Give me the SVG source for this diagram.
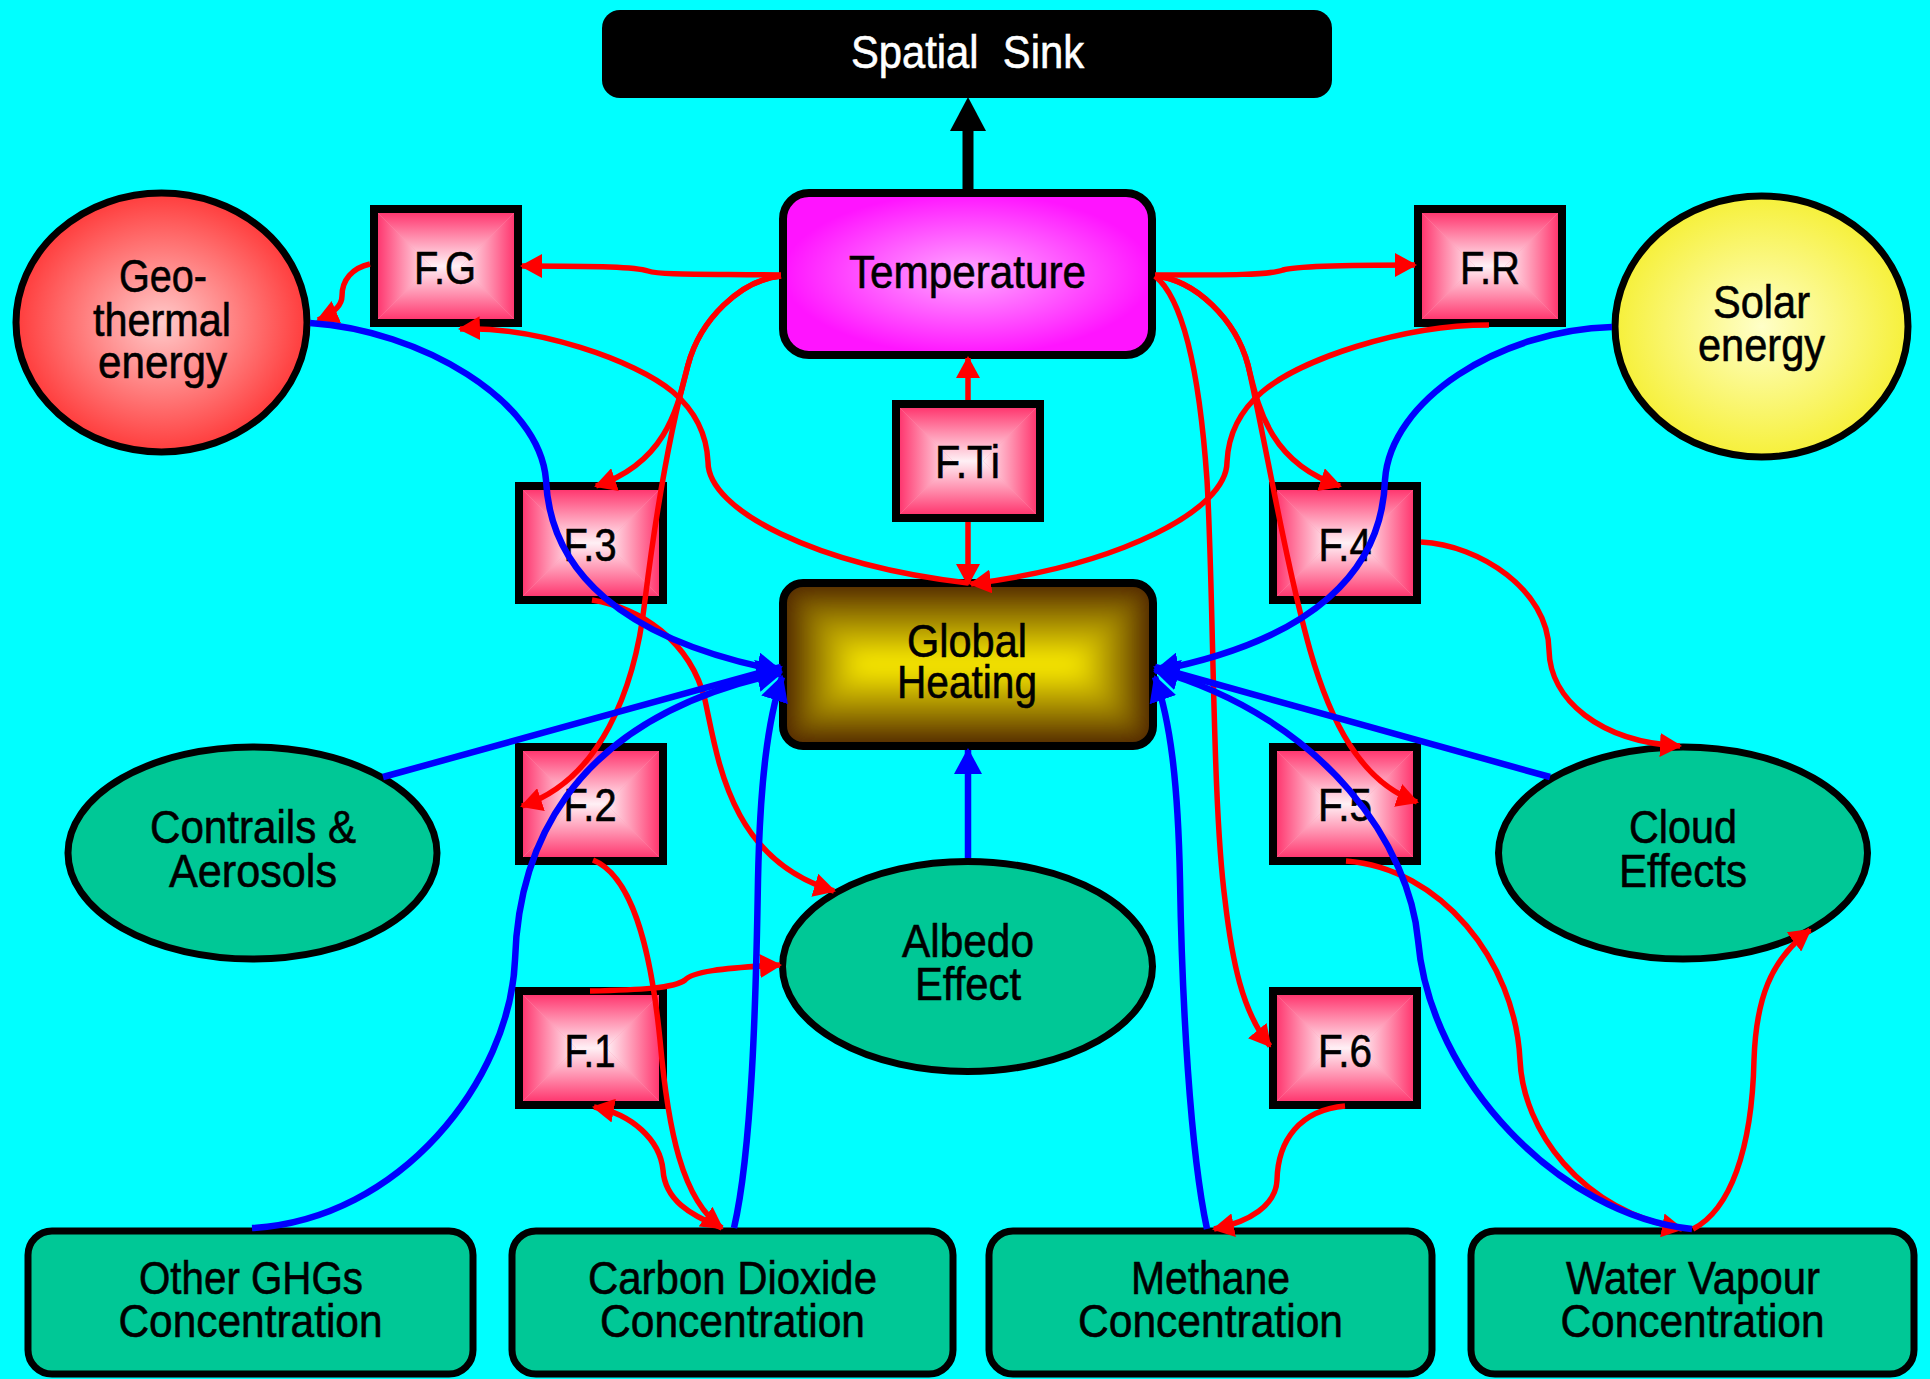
<svg xmlns="http://www.w3.org/2000/svg" width="1930" height="1379" viewBox="0 0 1930 1379">
<defs>
<style>
text{font-family:"Liberation Sans",Arial,sans-serif;font-size:46px;text-anchor:middle;fill:#000;stroke:#000;stroke-width:0.6}
.red{fill:none;stroke:#f00;stroke-width:5.5}
.blue{fill:none;stroke:#00f;stroke-width:6.5}
.teal{fill:#00c896;stroke:#000;stroke-width:7}
.frame{fill:none;stroke:#000;stroke-width:8}
</style>
<linearGradient id="pT" x1="0" y1="0" x2="0" y2="1"><stop offset="0" stop-color="#ff2a66"/><stop offset="0.5" stop-color="#ff8fae"/><stop offset="1" stop-color="#fff0f5"/></linearGradient>
<linearGradient id="pB" x1="0" y1="1" x2="0" y2="0"><stop offset="0" stop-color="#ff2a66"/><stop offset="0.5" stop-color="#ff8fae"/><stop offset="1" stop-color="#fff0f5"/></linearGradient>
<linearGradient id="pL" x1="0" y1="0" x2="1" y2="0"><stop offset="0" stop-color="#ff2a66"/><stop offset="0.5" stop-color="#ff8fae"/><stop offset="1" stop-color="#fff0f5"/></linearGradient>
<linearGradient id="pR" x1="1" y1="0" x2="0" y2="0"><stop offset="0" stop-color="#ff2a66"/><stop offset="0.5" stop-color="#ff8fae"/><stop offset="1" stop-color="#fff0f5"/></linearGradient>
<linearGradient id="hT" x1="0" y1="0" x2="0" y2="1"><stop offset="0" stop-color="#4d2200"/><stop offset="0.45" stop-color="#a08400"/><stop offset="1" stop-color="#fff000"/></linearGradient>
<linearGradient id="hB" x1="0" y1="1" x2="0" y2="0"><stop offset="0" stop-color="#4d2200"/><stop offset="0.45" stop-color="#a08400"/><stop offset="1" stop-color="#fff000"/></linearGradient>
<linearGradient id="hL" x1="0" y1="0" x2="1" y2="0"><stop offset="0" stop-color="#4d2200"/><stop offset="0.45" stop-color="#a08400"/><stop offset="1" stop-color="#fff000"/></linearGradient>
<linearGradient id="hR" x1="1" y1="0" x2="0" y2="0"><stop offset="0" stop-color="#4d2200"/><stop offset="0.45" stop-color="#a08400"/><stop offset="1" stop-color="#fff000"/></linearGradient>
<radialGradient id="gTemp" cx="0.5" cy="0.5" r="0.5"><stop offset="0" stop-color="#ffa8ff"/><stop offset="1" stop-color="#ff14ff"/></radialGradient>
<radialGradient id="gGeo" cx="0.5" cy="0.5" r="0.5"><stop offset="0" stop-color="#ffcaca"/><stop offset="1" stop-color="#ff3c3c"/></radialGradient>
<radialGradient id="gSol" cx="0.5" cy="0.5" r="0.5"><stop offset="0" stop-color="#ffffc8"/><stop offset="1" stop-color="#f6f03a"/></radialGradient>
<clipPath id="ghClip"><rect x="783" y="583" width="370" height="163" rx="20"/></clipPath>
<filter id="soft" x="-0.1" y="-0.1" width="1.2" height="1.2"><feGaussianBlur stdDeviation="9"/></filter>
<g id="fbox">
<rect x="4" y="4" width="144" height="114" fill="#ff9ab5"/>
<polygon points="4,4 148,4 91,61 61,61" fill="url(#pT)"/>
<polygon points="4,118 148,118 91,61 61,61" fill="url(#pB)"/>
<polygon points="4,4 61,61 4,118" fill="url(#pL)"/>
<polygon points="148,4 91,61 148,118" fill="url(#pR)"/>
<rect x="4" y="4" width="144" height="114" class="frame"/>
</g>
<marker id="mr" viewBox="0 0 22 24" refX="20" refY="12" markerWidth="22" markerHeight="24" markerUnits="userSpaceOnUse" orient="auto"><path d="M0,0L22,12L0,24z" fill="#f00"/></marker>
<marker id="mb" viewBox="0 0 26 28" refX="24" refY="14" markerWidth="26" markerHeight="28" markerUnits="userSpaceOnUse" orient="auto"><path d="M0,0L26,14L0,28z" fill="#00f"/></marker>
<marker id="mk" viewBox="0 0 34 36" refX="0" refY="18" markerWidth="34" markerHeight="36" markerUnits="userSpaceOnUse" orient="auto"><path d="M0,0L34,18L0,36z" fill="#000"/></marker>
</defs>
<rect x="0" y="0" width="1930" height="1379" fill="#00ffff"/>

<g id="node-spatial-sink">
<rect x="602" y="10" width="730" height="88" rx="18" fill="#000"/>
<text x="967.5" y="68" style="fill:#fff;stroke:#fff" word-spacing="14" textLength="233" lengthAdjust="spacingAndGlyphs">Spatial Sink</text>
</g>
<g id="node-temperature">
<rect x="783" y="193" width="369" height="162" rx="26" class="frame" style="fill:url(#gTemp)"/>
<text x="967.5" y="288" textLength="237" lengthAdjust="spacingAndGlyphs">Temperature</text>
</g>
<g id="node-geothermal">
<ellipse cx="161.5" cy="322.5" rx="145.5" ry="129.5" fill="url(#gGeo)" stroke="#000" stroke-width="7"/>
<text><tspan x="163" y="292" textLength="88" lengthAdjust="spacingAndGlyphs">Geo-</tspan><tspan x="162" y="336" textLength="138" lengthAdjust="spacingAndGlyphs">thermal</tspan><tspan x="162.5" y="378" textLength="129" lengthAdjust="spacingAndGlyphs">energy</tspan></text>
</g>
<g id="node-solar">
<ellipse cx="1761.5" cy="326.5" rx="146.5" ry="130.5" fill="url(#gSol)" stroke="#000" stroke-width="7"/>
<text><tspan x="1761.5" y="318" textLength="97" lengthAdjust="spacingAndGlyphs">Solar</tspan><tspan x="1761.5" y="361" textLength="127" lengthAdjust="spacingAndGlyphs">energy</tspan></text>
</g>
<g id="node-FG"><use href="#fbox" x="370" y="205"/><text x="445" y="284" textLength="62" lengthAdjust="spacingAndGlyphs">F.G</text></g>
<g id="node-FR"><use href="#fbox" x="1414" y="205"/><text x="1490" y="284" textLength="60" lengthAdjust="spacingAndGlyphs">F.R</text></g>
<g id="node-FTi"><use href="#fbox" x="892" y="400"/><text x="967.5" y="478" textLength="65" lengthAdjust="spacingAndGlyphs">F.Ti</text></g>
<g id="node-F3"><use href="#fbox" x="515" y="482"/><text x="590" y="561" textLength="53" lengthAdjust="spacingAndGlyphs">F.3</text></g>
<g id="node-F4"><use href="#fbox" x="1269" y="482"/><text x="1345" y="561" textLength="53" lengthAdjust="spacingAndGlyphs">F.4</text></g>
<g id="node-F2"><use href="#fbox" x="515" y="743"/><text x="590" y="821" textLength="53" lengthAdjust="spacingAndGlyphs">F.2</text></g>
<g id="node-F5"><use href="#fbox" x="1269" y="743"/><text x="1345" y="821" textLength="54" lengthAdjust="spacingAndGlyphs">F.5</text></g>
<g id="node-F1"><use href="#fbox" x="515" y="987"/><text x="590" y="1067" textLength="51" lengthAdjust="spacingAndGlyphs">F.1</text></g>
<g id="node-F6"><use href="#fbox" x="1269" y="987"/><text x="1345" y="1067" textLength="54" lengthAdjust="spacingAndGlyphs">F.6</text></g>
<g id="node-global-heating">
<g clip-path="url(#ghClip)">
<rect x="783" y="583" width="370" height="163" fill="#4d2200"/>
<g filter="url(#soft)">
<polygon points="783,583 1153,583 1071.5,664.5 864.5,664.5" fill="url(#hT)"/>
<polygon points="783,746 1153,746 1071.5,664.5 864.5,664.5" fill="url(#hB)"/>
<polygon points="783,583 864.5,664.5 783,746" fill="url(#hL)"/>
<polygon points="1153,583 1071.5,664.5 1153,746" fill="url(#hR)"/>
</g>
</g>
<rect x="783" y="583" width="370" height="163" rx="20" class="frame"/>
<text><tspan x="967" y="657" textLength="120" lengthAdjust="spacingAndGlyphs">Global</tspan><tspan x="967" y="698" textLength="140" lengthAdjust="spacingAndGlyphs">Heating</tspan></text>
</g>
<g id="node-contrails">
<ellipse cx="252.5" cy="853" rx="184.5" ry="106" class="teal"/>
<text><tspan x="253" y="843" textLength="206" lengthAdjust="spacingAndGlyphs">Contrails &amp;</tspan><tspan x="253" y="887" textLength="168" lengthAdjust="spacingAndGlyphs">Aerosols</tspan></text>
</g>
<g id="node-cloud">
<ellipse cx="1683" cy="853" rx="184.5" ry="106" class="teal"/>
<text><tspan x="1683" y="843" textLength="108" lengthAdjust="spacingAndGlyphs">Cloud</tspan><tspan x="1683" y="887" textLength="128" lengthAdjust="spacingAndGlyphs">Effects</tspan></text>
</g>
<g id="node-albedo">
<ellipse cx="967.5" cy="966.5" rx="185" ry="105" class="teal"/>
<text><tspan x="968" y="957" textLength="132" lengthAdjust="spacingAndGlyphs">Albedo</tspan><tspan x="968" y="1000" textLength="106" lengthAdjust="spacingAndGlyphs">Effect</tspan></text>
</g>
<g id="node-other-ghgs">
<rect x="28" y="1231" width="445" height="143" rx="24" class="teal" stroke-width="8"/>
<text><tspan x="251" y="1294" textLength="224" lengthAdjust="spacingAndGlyphs">Other GHGs</tspan><tspan x="250.5" y="1337" textLength="264" lengthAdjust="spacingAndGlyphs">Concentration</tspan></text>
</g>
<g id="node-co2">
<rect x="512" y="1231" width="441" height="143" rx="24" class="teal" stroke-width="8"/>
<text><tspan x="732.5" y="1294" textLength="289" lengthAdjust="spacingAndGlyphs">Carbon Dioxide</tspan><tspan x="732.5" y="1337" textLength="265" lengthAdjust="spacingAndGlyphs">Concentration</tspan></text>
</g>
<g id="node-methane">
<rect x="989" y="1231" width="443" height="143" rx="24" class="teal" stroke-width="8"/>
<text><tspan x="1210.5" y="1294" textLength="159" lengthAdjust="spacingAndGlyphs">Methane</tspan><tspan x="1210.5" y="1337" textLength="265" lengthAdjust="spacingAndGlyphs">Concentration</tspan></text>
</g>
<g id="node-water-vapour">
<rect x="1471" y="1231" width="443" height="143" rx="24" class="teal" stroke-width="8"/>
<text><tspan x="1693" y="1294" textLength="254" lengthAdjust="spacingAndGlyphs">Water Vapour</tspan><tspan x="1692.5" y="1337" textLength="264" lengthAdjust="spacingAndGlyphs">Concentration</tspan></text>
</g>

<g id="connectors">
<path d="M968,189 L968,131" fill="none" stroke="#000" stroke-width="11" marker-end="url(#mk)"/>
<path class="red" marker-end="url(#mr)" d="M781,275 C700,274 660,275 648,271 C636,267 600,266 522,266"/>
<path class="red" marker-end="url(#mr)" d="M370,264 C352,268 342,280 342,296 C342,306 332,314 318,320"/>
<path class="red" marker-end="url(#mr)" d="M1155,275 C1230,275 1270,275 1283,270 C1296,266 1340,265 1415,265"/>
<path class="red" marker-end="url(#mr)" d="M968,583 C815,565 708,510 708,462 C707,440 700,415 673,392 C635,360 535,326 460,329"/>
<path class="red" marker-end="url(#mr)" d="M1489,325 C1400,325 1300,360 1262,392 C1235,415 1228,440 1227,462 C1227,510 1120,565 971,584"/>
<path class="red" marker-end="url(#mr)" d="M968,400 L968,358"/>
<path class="red" marker-end="url(#mr)" d="M968,522 L968,584"/>
<path class="red" marker-end="url(#mr)" d="M781,276 C740,280 700,320 688,365 C678,405 668,462 596,486"/>
<path class="red" marker-end="url(#mr)" d="M781,276 C740,280 700,320 688,365 C670,430 655,520 645,600 C635,690 600,780 522,806"/>
<path class="red" marker-end="url(#mr)" d="M1155,276 C1196,280 1236,320 1248,365 C1258,405 1268,462 1340,486"/>
<path class="red" marker-end="url(#mr)" d="M1155,276 C1196,280 1236,320 1248,365 C1265,440 1285,560 1310,650 C1330,720 1360,782 1417,802"/>
<path class="red" marker-end="url(#mr)" d="M1155,276 C1185,300 1200,380 1207,480 C1214,600 1212,800 1225,900 C1232,960 1242,1012 1270,1046"/>
<path class="red" marker-end="url(#mr)" d="M1421,542 C1480,545 1548,590 1549,650 C1550,700 1600,742 1680,746"/>
<path class="red" marker-end="url(#mr)" d="M592,600 C640,608 690,640 705,700 C718,760 730,860 834,891"/>
<path class="red" marker-end="url(#mr)" d="M590,991 C640,990 675,988 685,980 C692,972 720,968 780,965"/>
<path class="red" marker-end="url(#mr)" d="M593,860 C630,875 650,940 660,1040 C668,1130 682,1200 722,1228"/>
<path class="red" marker-end="url(#mr)" d="M722,1228 C690,1215 665,1200 663,1170 C660,1140 632,1114 594,1107"/>
<path class="red" marker-end="url(#mr)" d="M1345,1106 C1300,1110 1278,1140 1277,1180 C1276,1205 1250,1222 1214,1229"/>
<path class="red" marker-end="url(#mr)" d="M1346,861 C1440,868 1515,960 1520,1060 C1523,1130 1580,1210 1682,1229"/>
<path class="red" marker-end="url(#mr)" d="M1693,1229 C1730,1210 1752,1150 1754,1060 C1756,1000 1770,960 1810,930"/>
<path class="blue" marker-end="url(#mb)" d="M310,323 C420,330 540,400 546,480 C550,570 620,640 781,671"/>
<path class="blue" marker-end="url(#mb)" d="M1612,327 C1500,330 1390,400 1385,480 C1382,570 1315,640 1155,671"/>
<path class="blue" marker-end="url(#mb)" d="M383,777 L781,667"/>
<path class="blue" marker-end="url(#mb)" d="M1550,777 L1155,667"/>
<path class="blue" marker-end="url(#mb)" d="M252,1228 C400,1220 510,1080 515,960 C518,860 560,720 781,673"/>
<path class="blue" marker-end="url(#mb)" d="M734,1228 C752,1150 756,1000 758,880 C760,780 768,720 782,677"/>
<path class="blue" marker-end="url(#mb)" d="M1207,1229 C1190,1150 1182,1000 1180,880 C1178,780 1170,720 1155,677"/>
<path class="blue" marker-end="url(#mb)" d="M1692,1229 C1560,1215 1430,1080 1418,940 C1410,850 1330,720 1155,670"/>
<path class="blue" marker-end="url(#mb)" d="M968,858 L968,750"/>
</g>
</svg>
